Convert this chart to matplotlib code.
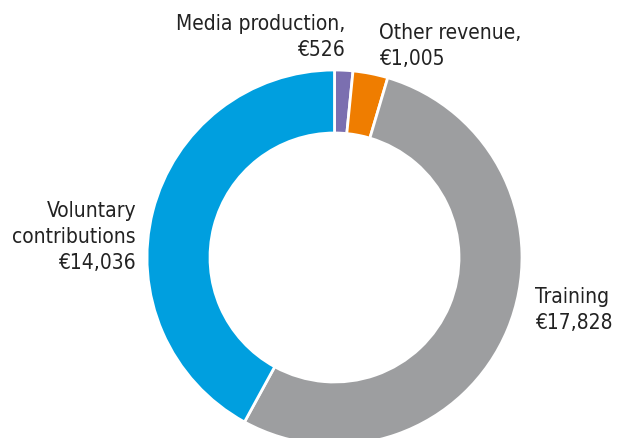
import matplotlib
matplotlib.use("Agg")
import matplotlib.pyplot as plt

# revenue by source, clockwise from 12 o'clock
labels = ["Media production", "Other revenue", "Training", "Voluntary contributions"]
values = [526, 1005, 17828, 14036]
colors = ["#7B6FB0", "#EF7D00", "#9D9EA0", "#009FDF"]

W, H = 621, 439
fig = plt.figure(figsize=(W / 100, H / 100), dpi=100)
ax = fig.add_axes([0, 0, 1, 1])

cx, cy, r = 334.5, H - 258.5, 187.5
ax.pie(values, colors=colors, startangle=90, counterclock=False,
       center=(cx, cy), radius=r, frame=True,
       wedgeprops=dict(width=r * 0.336, edgecolor="white", linewidth=2))
ax.set_xlim(0, W)
ax.set_ylim(0, H)
ax.set_aspect("equal")
ax.axis("off")

font = dict(family="DejaVu Sans", stretch="condensed", fontsize=15, color="#222222")

def money(v):
    return "\u20ac{:,}".format(v)

ax.text(345, H - 24, labels[0] + ",", ha="right", va="center", **font)
ax.text(345, H - 50, money(values[0]), ha="right", va="center", **font)
ax.text(379, H - 33, labels[1] + ",", ha="left", va="center", **font)
ax.text(379, H - 59, money(values[1]), ha="left", va="center", **font)
ax.text(535, H - 297, labels[2], ha="left", va="center", **font)
ax.text(535, H - 323, money(values[2]), ha="left", va="center", **font)
ax.text(136, H - 211, "Voluntary", ha="right", va="center", **font)
ax.text(136, H - 237, "contributions", ha="right", va="center", **font)
ax.text(136, H - 263, money(values[3]), ha="right", va="center", **font)

fig.savefig("out.png", dpi=100)
